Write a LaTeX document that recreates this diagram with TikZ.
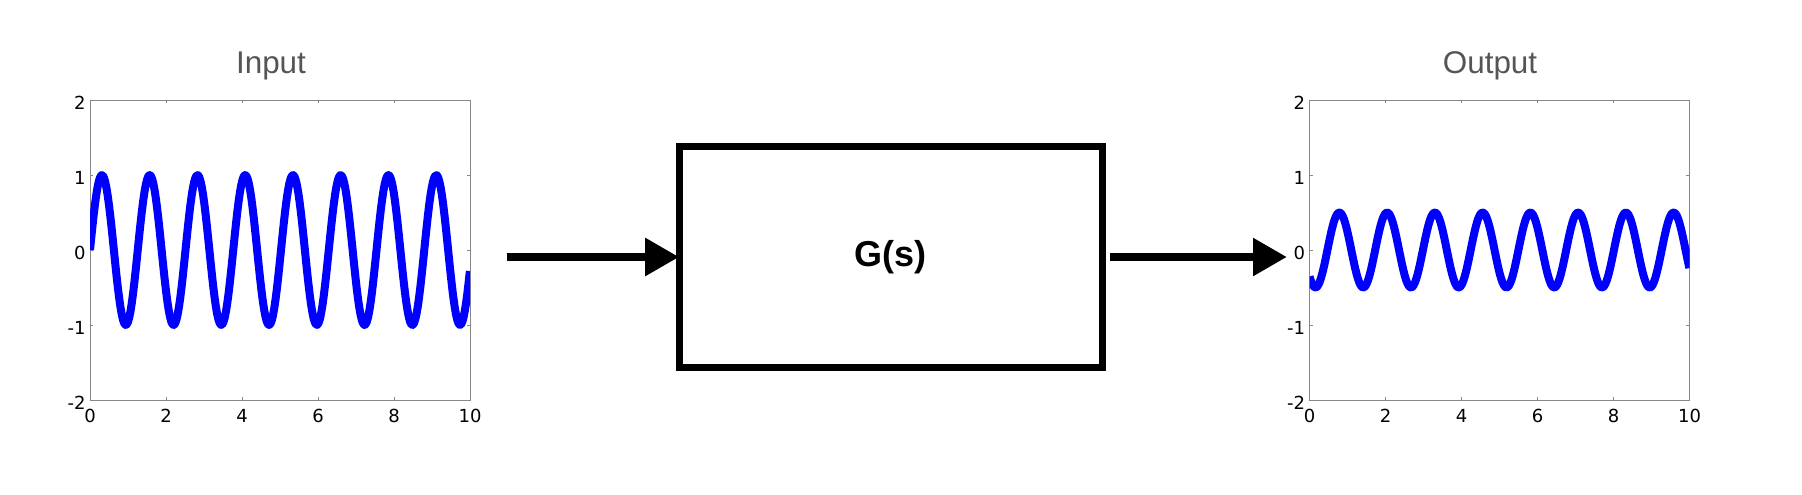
\documentclass[tikz,border=0pt]{standalone}
\usepackage{fontspec}
\usetikzlibrary{arrows.meta}
\newfontfamily\grafont{DejaVu Sans}
\newfontfamily\titrefont{Liberation Sans}
\definecolor{grisTitre}{RGB}{85,85,85}
\definecolor{grisCadre}{RGB}{136,136,136}
\definecolor{bleuCourbe}{RGB}{0,0,255}

\begin{document}
\begin{tikzpicture}[x=0.5pt, y=-0.5pt]
\tikzset{bloc/.style={draw, line width=3.5pt, minimum width=211.65pt, minimum height=110.15pt, inner sep=0pt, outer sep=0pt, font=\titrefont\bfseries\fontsize{18}{20}\selectfont},
  fleche/.style={line width=4.25pt, -{Triangle[length=17pt, width=18pt]}},
  titre/.style={anchor=base, text=grisTitre, font=\titrefont\fontsize{15.7}{18}\selectfont},
  cadre/.style={draw=grisCadre, line width=0.5pt},
  gradx/.style={anchor=base, inner sep=0pt, yshift=-11pt, font=\grafont\fontsize{9}{10}\selectfont},
  grady/.style={anchor=base east, inner sep=0pt, xshift=-2pt, yshift=-4.75pt, font=\grafont\fontsize{9}{10}\selectfont},
  courbe/.style={draw=bleuCourbe, line width=4pt, line join=round}}
\useasboundingbox (0,0) rectangle (1802,494);
% titres
\node[titre] (titreE) at (271,73) {Input};
\node[titre] (titreS) at (1490,73) {Output};
% graphe d'entree
\begin{scope}[shift={(90,250)}, x=19pt, y=37.5pt]
\draw[cadre] (0,-2) rectangle (10,2);
\foreach \t in {2,4,6,8} {\draw[cadre] (\t,-2) -- ++(0,0.04); \draw[cadre] (\t,2) -- ++(0,-0.04);}
\foreach \v in {-1,0,1} {\draw[cadre] (0,\v) -- ++(0.08,0); \draw[cadre] (10,\v) -- ++(-0.08,0);}
\foreach \t in {0,2,4,6,8,10} \node[gradx] (xE\t) at (\t,-2) {\t};
\foreach \v in {-2,-1,0,1,2} \node[grady] (yE\v) at (0,\v) {\v};
\begin{scope}
\clip (0,-2) rectangle (10,2);
\draw[courbe] plot[domain=0:10, samples=300] (\x,{sin(deg(5*\x))});
\end{scope}
\end{scope}
% graphe de sortie
\begin{scope}[shift={(1309.5,250)}, x=19pt, y=37.5pt]
\draw[cadre] (0,-2) rectangle (10,2);
\foreach \t in {2,4,6,8} {\draw[cadre] (\t,-2) -- ++(0,0.04); \draw[cadre] (\t,2) -- ++(0,-0.04);}
\foreach \v in {-1,0,1} {\draw[cadre] (0,\v) -- ++(0.08,0); \draw[cadre] (10,\v) -- ++(-0.08,0);}
\foreach \t in {0,2,4,6,8,10} \node[gradx] (xS\t) at (\t,-2) {\t};
\foreach \v in {-2,-1,0,1,2} \node[grady] (yS\v) at (0,\v) {\v};
\begin{scope}
\clip (0,-2) rectangle (10,2);
\draw[courbe] plot[domain=0:10, samples=300] (\x,{0.5*sin(deg(5*\x)-135)});
\end{scope}
\end{scope}
% bloc et fleches
\node[bloc] (G) at (890.85,257) {\raisebox{-2pt}{G(s)}};
\coordinate (entree) at (506.7,257);
\coordinate (sortie) at (1287,257);
\draw[fleche] (entree) -- (G.west);
\draw[fleche, shorten <=3.75pt] (G.east) -- (sortie);
\end{tikzpicture}
\end{document}
